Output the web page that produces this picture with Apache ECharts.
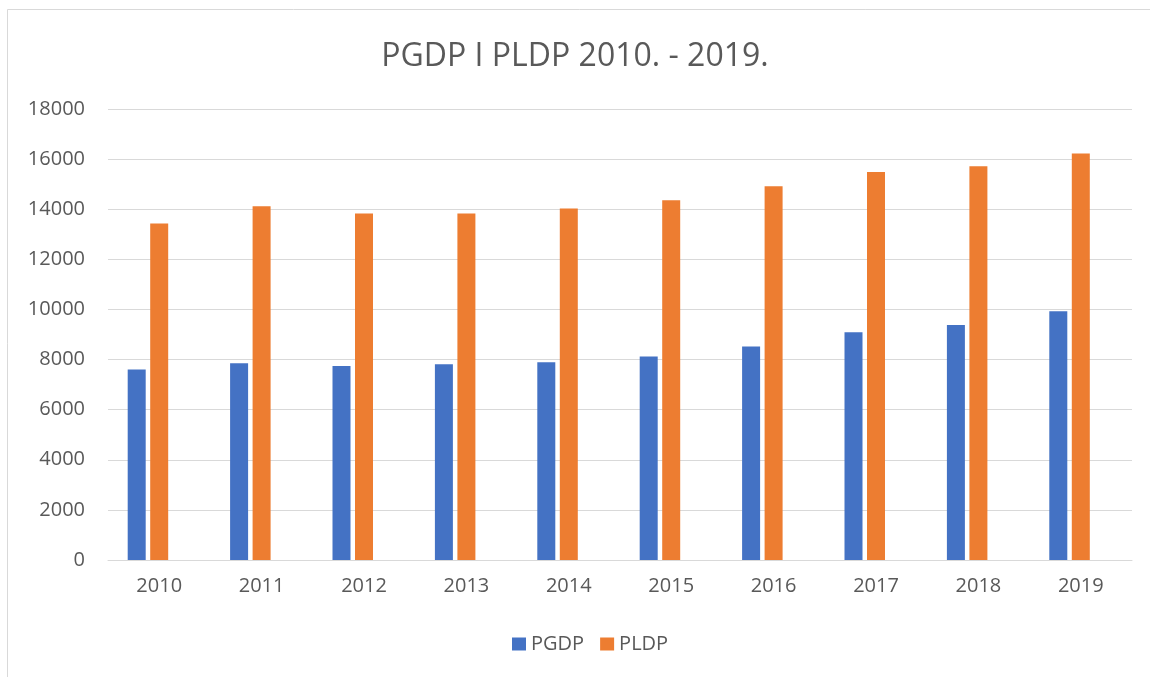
<!DOCTYPE html>
<html>
<head>
<meta charset="utf-8">
<script src="https://cdn.jsdelivr.net/npm/echarts@6/dist/echarts.min.js"></script>
<style>
  html, body { margin: 0; padding: 0; background: #fff; }
  #chart { width: 1150px; height: 677px; }
</style>
</head>
<body>
<div id="chart"></div>
<script>
  // godine
  const years = ['2010', '2011', '2012', '2013', '2014', '2015', '2016', '2017', '2018', '2019'];
  const pgdp = [7600, 7850, 7745, 7810, 7890, 8120, 8520, 9090, 9380, 9930];
  const pldp = [13430, 14120, 13830, 13830, 14030, 14360, 14920, 15490, 15720, 16225];
  // prazna treca serija (pomice stupce ulijevo kao u Excelu)
  const empty = [null, null, null, null, null, null, null, null, null, null];

  const textColor = '#595959';
  const font = 'Open Sans';

  const chart = echarts.init(document.getElementById('chart'));
  chart.setOption({
    backgroundColor: '#ffffff',
    animation: false,
    title: {
      text: 'PGDP I PLDP 2010. - 2019.',
      left: 'center',
      top: 36,
      textStyle: {
        color: textColor,
        fontFamily: font,
        fontSize: 32,
        fontWeight: 'normal',
      },
    },
    legend: {
      data: ['PGDP', 'PLDP'],
      top: 629,
      left: 507,
      itemWidth: 14,
      itemHeight: 13,
      itemGap: 16,
      icon: 'rect',
      textStyle: {
        color: textColor,
        fontFamily: font,
        fontSize: 20,
      },
    },
    grid: {
      top: 109,
      bottom: 117,
      left: 108,
      right: 18,
    },
    xAxis: {
      type: 'category',
      data: years,
      axisTick: {show: false},
      axisLine: {lineStyle: {color: '#d9d9d9', width: 1}},
      axisLabel: {
        color: textColor,
        fontFamily: font,
        fontSize: 20,
        margin: 16,
      },
    },
    yAxis: {
      type: 'value',
      min: 0,
      max: 18000,
      interval: 2000,
      axisLine: {show: false},
      axisTick: {show: false},
      splitLine: {lineStyle: {color: '#d9d9d9', width: 1}},
      axisLabel: {
        color: textColor,
        fontFamily: font,
        fontSize: 20,
        margin: 23,
        formatter: v => String(v),
      },
    },
    series: [
      {
        name: 'PGDP',
        type: 'bar',
        data: pgdp,
        barWidth: 18,
        barGap: '25%',
        itemStyle: {color: '#4472c4'},
      },
      {
        name: 'PLDP',
        type: 'bar',
        data: pldp,
        barWidth: 18,
        barGap: '25%',
        itemStyle: {color: '#ed7d31'},
      },
      {
        name: 'prazno',
        type: 'bar',
        data: empty,
        barWidth: 18,
        barGap: '25%',
      },
    ],
    graphic: [
      {
        type: 'rect',
        shape: {x: 7.5, y: 9.5, width: 1160, height: 700},
        style: {fill: 'none', stroke: '#d9d9d9', lineWidth: 1},
      },
    ],
  });
</script>
</body>
</html>
